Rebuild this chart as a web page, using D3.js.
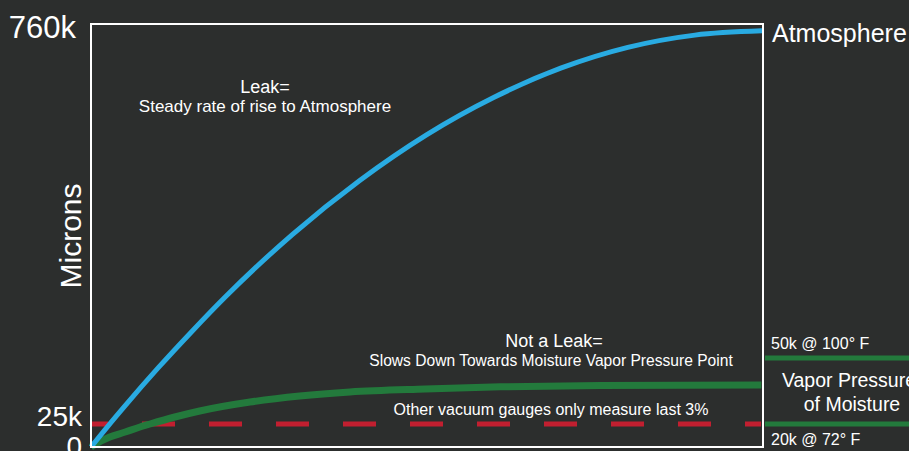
<!DOCTYPE html>
<html>
<head>
<meta charset="utf-8">
<script src="https://cdn.jsdelivr.net/npm/d3@7"></script>
<style>
  html, body { margin: 0; padding: 0; background: #2c2e2d; }
  svg { display: block; font-family: "Liberation Sans", Arial, sans-serif; }
</style>
</head>
<body>
<div id="chart"></div>
<script>
// time in % of the test, pressure in microns
const leakTime = [0, 2.5, 5, 10, 15, 20, 30, 40, 50, 60, 70, 80, 90, 100];
const leakValues = [0, 18000, 45000, 117000, 185000, 250000, 367000, 468000, 554000, 624000, 679000, 718000, 741000, 749000];

const moistureTime = [0, 0.7, 2.8, 5.1, 7.3, 8.8, 12.5, 16.2, 23.7, 31.1, 38.6, 49.8, 61, 75.9, 99.9];
const moistureValues = [0, 2600, 8700, 13000, 17400, 20000, 25000, 36300, 53100, 64400, 71900, 77500, 81600, 84100, 85000];

const gaugeLimit = 20000;
const yTicks = [0, 25000, 760000];
const yTickLabels = ["0", "25k", "760k"];
const vaporPoints = [50000, 20000];
const vaporLabels = ["50k @ 100° F", "20k @ 72° F"];

const width = 909, height = 451;
const margin = { left: 91, right: 146, top: 24, bottom: 4 };

const svg = d3.select("#chart").append("svg")
  .attr("width", width)
  .attr("height", height);

svg.append("rect").attr("width", width).attr("height", height).attr("fill", "#2c2e2d");

const x = d3.scaleLinear()
  .domain([0, 100])
  .range([margin.left, width - margin.right - 1]);

// not a true linear axis in the original, bottom part is stretched
const y = d3.scaleLinear()
  .domain([0, 20000, 25000, 760000])
  .range([447, 424, 417, 25]);

// side legend for the vapor pressure band
const ySide = d3.scaleLinear()
  .domain([20000, 50000])
  .range([424, 358]);

const line = (xs, ys) => d3.line()
  .x((d, i) => x(xs[i]))
  .y(d => y(d))
  .curve(d3.curveMonotoneX)(ys);

// red dashed gauge limit
svg.append("line")
  .attr("x1", x(0)).attr("x2", x(100) - 1)
  .attr("y1", y(gaugeLimit)).attr("y2", y(gaugeLimit))
  .attr("stroke", "#c21f30")
  .attr("stroke-width", 5)
  .attr("stroke-dasharray", "33,34")
  .attr("stroke-dashoffset", 16);

// moisture curve
svg.append("path")
  .attr("d", line(moistureTime, moistureValues))
  .attr("fill", "none")
  .attr("stroke", "#237a3c")
  .attr("stroke-width", 7);

// leak curve
svg.append("path")
  .attr("d", line(leakTime, leakValues))
  .attr("fill", "none")
  .attr("stroke", "#29abe2")
  .attr("stroke-width", 5);

// frame
svg.append("rect")
  .attr("x", margin.left)
  .attr("y", margin.top)
  .attr("width", x(100) + 1 - margin.left)
  .attr("height", y(0) - margin.top)
  .attr("fill", "none")
  .attr("stroke", "#ffffff")
  .attr("stroke-width", 2);

// y axis labels
const yAxis = d3.axisLeft(y)
  .tickValues(yTicks)
  .tickFormat((d, i) => yTickLabels[i])
  .tickSize(0)
  .tickPadding(9);

const yAxisGroup = svg.append("g")
  .attr("transform", `translate(${margin.left}, 0)`)
  .call(yAxis);
yAxisGroup.select(".domain").remove();
yAxisGroup.selectAll("text")
  .attr("fill", "#ffffff")
  .attr("font-family", "Liberation Sans, Arial, sans-serif")
  .attr("font-size", d => d === 760000 ? 31 : 28)
  .attr("dx", d => d === 760000 ? -6 : 0)
  .attr("dy", d => d === 760000 ? "0.4em" : "0.32em");

svg.append("text")
  .attr("transform", "translate(81, 236) rotate(-90)")
  .attr("text-anchor", "middle")
  .attr("fill", "#ffffff")
  .attr("font-size", 30)
  .text("Microns");

svg.append("text")
  .attr("x", 772).attr("y", 42)
  .attr("fill", "#ffffff")
  .attr("font-size", 25)
  .text("Atmosphere");

// annotations
const note = (tx, ty, size, str) => svg.append("text")
  .attr("x", tx).attr("y", ty)
  .attr("text-anchor", "middle")
  .attr("fill", "#ffffff")
  .attr("font-size", size)
  .text(str);

note(265, 93, 18, "Leak=");
note(265, 112, 17, "Steady rate of rise to Atmosphere");
note(554, 347, 18, "Not a Leak=");
note(551, 366, 15.6, "Slows Down Towards Moisture Vapor Pressure Point");
note(551, 415, 16, "Other vacuum gauges only measure last 3%");

// vapor pressure band at the right
svg.selectAll(".vapor")
  .data(vaporPoints)
  .enter()
  .append("line")
  .attr("class", "vapor")
  .attr("x1", 765).attr("x2", width)
  .attr("y1", d => ySide(d)).attr("y2", d => ySide(d))
  .attr("stroke", "#237a3c")
  .attr("stroke-width", 5);

svg.selectAll(".vaporLabel")
  .data(vaporPoints)
  .enter()
  .append("text")
  .attr("class", "vaporLabel")
  .attr("x", 771)
  .attr("y", (d, i) => i === 0 ? ySide(d) - 9 : ySide(d) + 21)
  .attr("fill", "#ffffff")
  .attr("font-size", 16)
  .text((d, i) => vaporLabels[i]);

note(849, 387, 19.5, "Vapor Pressure");
note(852, 411, 19.5, "of Moisture");
</script>
</body>
</html>
